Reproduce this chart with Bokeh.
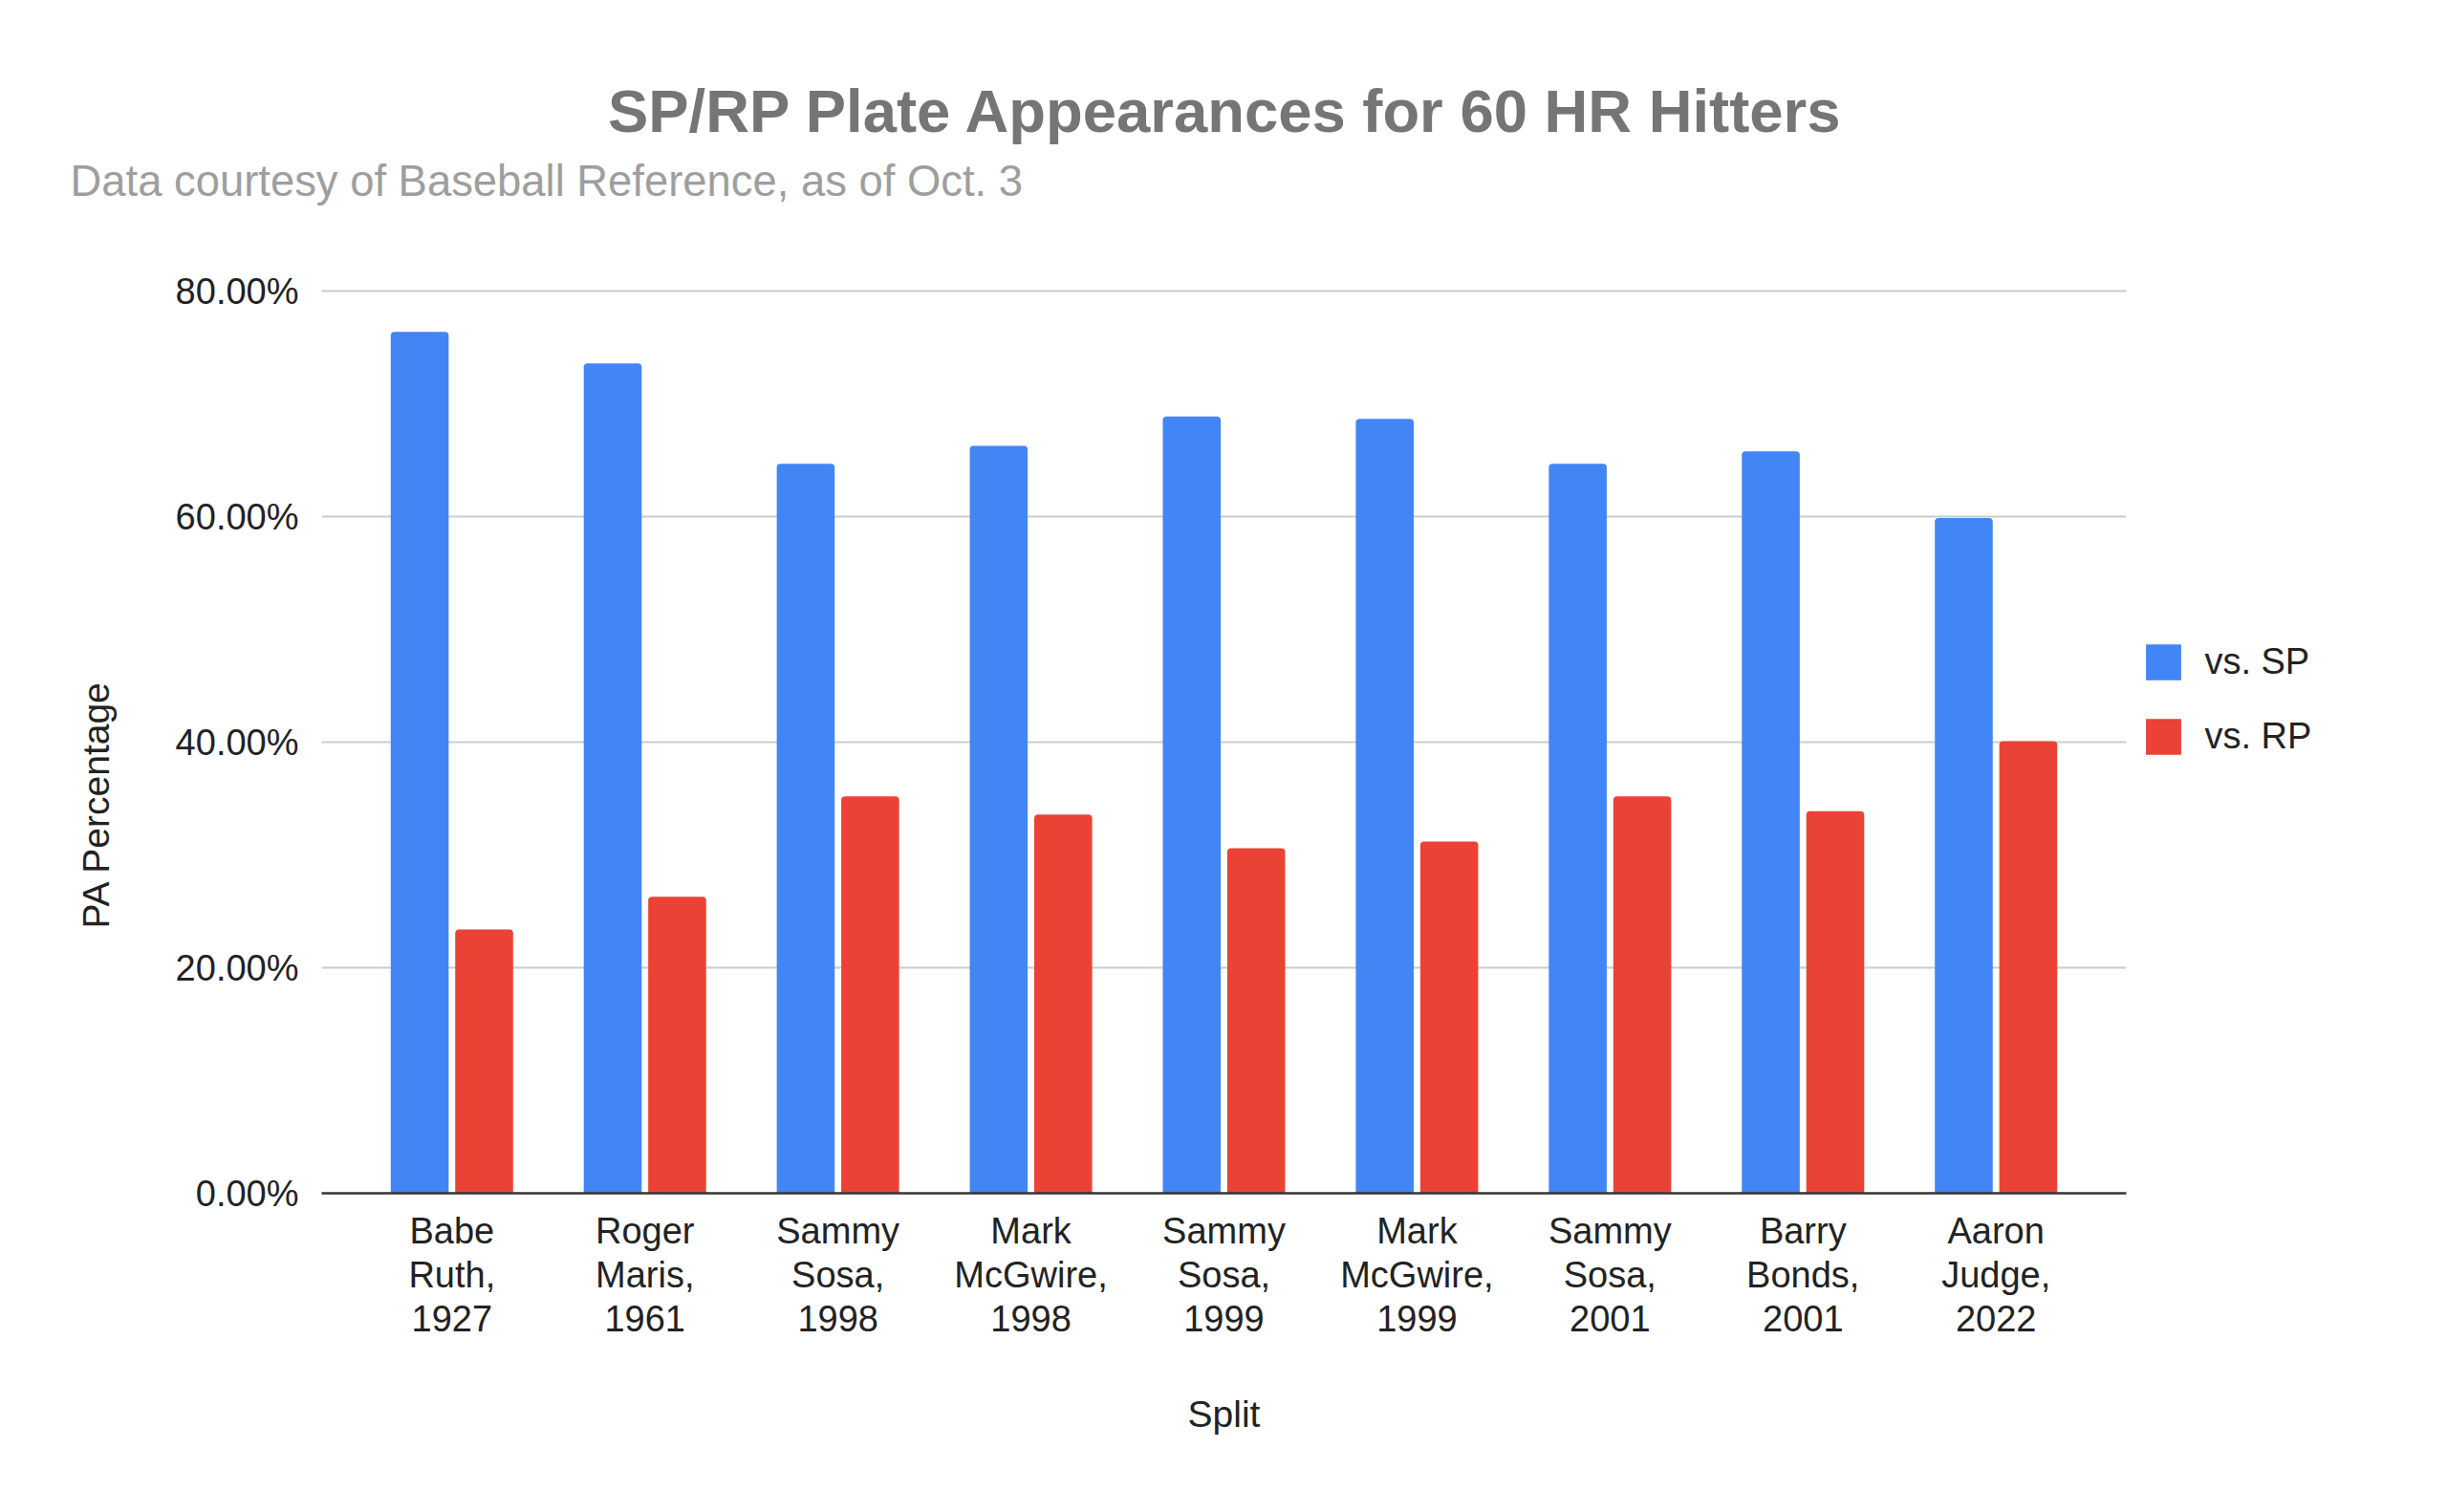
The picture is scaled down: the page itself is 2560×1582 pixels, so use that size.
from bokeh.plotting import figure
from bokeh.layouts import column, row
from bokeh.models import (ColumnDataSource, FactorRange, Range1d, Legend, LegendItem, Title,
                          Label, PrintfTickFormatter, FixedTicker)
from bokeh.transform import dodge
from bokeh.embed import file_html
from bokeh.resources import INLINE

# ---- data ----
hitters = ["Babe Ruth, 1927", "Roger Maris, 1961", "Sammy Sosa, 1998",
           "Mark McGwire, 1998", "Sammy Sosa, 1999", "Mark McGwire, 1999",
           "Sammy Sosa, 2001", "Barry Bonds, 2001", "Aaron Judge, 2022"]
vs_sp = [76.4, 73.6, 64.7, 66.3, 68.9, 68.7, 64.7, 65.8, 59.9]
vs_rp = [23.4, 26.3, 35.2, 33.6, 30.6, 31.2, 35.2, 33.9, 40.1]
y_ticks = [0, 20, 40, 60, 80]
title_text = "SP/RP Plate Appearances for 60 HR Hitters"
subtitle_text = "Data courtesy of Baseball Reference, as of Oct. 3"
x_title = "Split"
y_title = "PA Percentage"
series_names = ["vs. SP", "vs. RP"]

factors = [h.replace(" ", "\n") for h in hitters]

TEXT_FONT = "Liberation Sans"
BLUE = "#4285F4"
RED = "#EA4335"

TOTAL_W, TOTAL_H = 2544, 1566
HEAD_H = 240
CHART_W = 2240
CHART_H = TOTAL_H - HEAD_H
LEG_W = TOTAL_W - CHART_W


def bare(fig):
    fig.outline_line_color = None
    fig.background_fill_color = "white"
    fig.border_fill_color = "white"
    fig.grid.visible = False
    return fig


# ---------- header: title + subtitle ----------
head = bare(figure(width=TOTAL_W, height=HEAD_H, output_backend="svg",
                   toolbar_location=None, x_axis_location=None, y_axis_location=None,
                   x_range=(0, 1), y_range=(0, 1), min_border=0))
head.add_layout(Label(x=1282, y=125, x_units="screen", y_units="screen",
                      text=title_text, text_font=TEXT_FONT, text_font_style="bold",
                      text_font_size="63.4px", text_color="#757575",
                      text_align="center", text_baseline="alphabetic"))
head.add_layout(Label(x=73, y=51, x_units="screen", y_units="screen",
                      text=subtitle_text, text_font=TEXT_FONT,
                      text_font_size="45.4px", text_color="#9e9e9e",
                      text_align="left", text_baseline="alphabetic"))

# ---------- chart ----------
FL, FR, FT, FB = 336, CHART_W - 2224, 302 - HEAD_H, TOTAL_H - 1248
p = bare(figure(width=CHART_W, height=CHART_H, output_backend="svg",
                toolbar_location=None,
                x_range=FactorRange(factors=factors, range_padding=0.175,
                                    range_padding_units="absolute"),
                y_range=(0, 80.2),
                min_border_left=FL, min_border_right=FR,
                min_border_top=FT, min_border_bottom=FB))

src = ColumnDataSource(dict(cat=factors, sp=vs_sp, rp=vs_rp))
p.vbar(x=dodge("cat", -0.167, range=p.x_range), top="sp", width=0.30,
       source=src, fill_color=BLUE, line_color=None, border_radius=(4, 4, 0, 0))
p.vbar(x=dodge("cat", 0.167, range=p.x_range), top="rp", width=0.30,
       source=src, fill_color=RED, line_color=None, border_radius=(4, 4, 0, 0))

p.ygrid.visible = True
p.ygrid.grid_line_color = "#cccccc"
p.ygrid.grid_line_width = 2
p.ygrid.ticker = FixedTicker(ticks=y_ticks[1:])

p.yaxis.ticker = FixedTicker(ticks=y_ticks)
p.yaxis.formatter = PrintfTickFormatter(format="%.2f%%")
p.yaxis.axis_line_color = None
p.yaxis.major_tick_line_color = None
p.yaxis.minor_tick_line_color = None
p.yaxis.major_label_standoff = 18
p.yaxis.major_label_text_font = TEXT_FONT
p.yaxis.major_label_text_font_size = "38px"
p.yaxis.major_label_text_color = "#222222"

p.xaxis.axis_line_color = "#333333"
p.xaxis.axis_line_width = 2.5
p.xaxis.major_tick_line_color = None
p.xaxis.minor_tick_line_color = None
p.xaxis.major_label_standoff = 12
p.xaxis.major_label_text_font = TEXT_FONT
p.xaxis.major_label_text_font_size = "38px"
p.xaxis.major_label_text_color = "#222222"
p.xaxis.major_label_text_line_height = 1.1
p.xaxis.axis_label = x_title
p.xaxis.axis_label_standoff = 54
p.xaxis.axis_label_text_font = TEXT_FONT
p.xaxis.axis_label_text_font_style = "normal"
p.xaxis.axis_label_text_font_size = "39px"
p.xaxis.axis_label_text_color = "#222222"

p.add_layout(Title(text=y_title, align="left", offset=277, standoff=117,
                   text_font=TEXT_FONT, text_font_style="normal",
                   text_font_size="39px", text_color="#222222"), "left")

# ---------- legend panel (its frame lines up with the chart frame) ----------
leg = bare(figure(width=LEG_W, height=CHART_H, output_backend="svg",
                  toolbar_location=None, x_axis_location=None, y_axis_location=None,
                  x_range=FactorRange(factors=factors), y_range=Range1d(-2, -1),
                  min_border=0))
# legend keys: zero-width copies of the series (nothing visible is drawn for them)
k_sp = leg.vbar(x="cat", top="sp", width=0, source=src,
                fill_color=BLUE, line_color=None)
k_rp = leg.vbar(x="cat", top="rp", width=0, source=src,
                fill_color=RED, line_color=None)
legend = Legend(items=[LegendItem(label=series_names[0], renderers=[k_sp]),
                       LegendItem(label=series_names[1], renderers=[k_rp])],
                location=(0.4, 454.5),
                orientation="vertical", padding=0, margin=0, spacing=31,
                glyph_width=46, glyph_height=47, label_standoff=20,
                label_text_font=TEXT_FONT, label_text_font_size="38px",
                label_text_color="#222222", label_height=40,
                border_line_color=None, background_fill_alpha=0)
leg.add_layout(legend)

layout = column(head, row(p, leg, spacing=0), spacing=0)
open("out.html", "w").write(file_html(layout, INLINE))
